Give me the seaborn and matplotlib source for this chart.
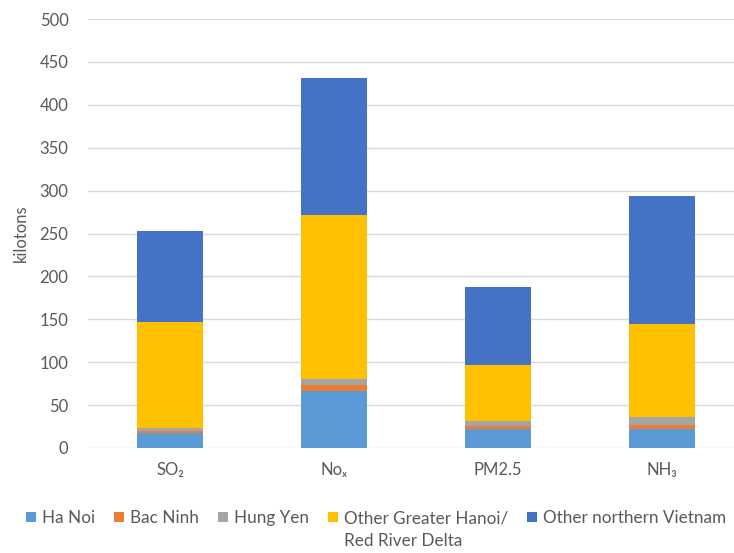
import matplotlib
matplotlib.use("Agg")
import matplotlib.pyplot as plt
import seaborn as sns
import pandas as pd
import numpy as np

categories = ["SO\u2082", "No\u2093", "PM2.5", "NH\u2083"]
series_names = ["Ha Noi", "Bac Ninh", "Hung Yen", "Other Greater Hanoi/", "Other northern Vietnam"]
ha_noi = [17, 67, 22, 22]
bac_ninh = [3, 7, 4, 5]
hung_yen = [3, 7, 5, 9]
other_greater_hanoi = [124, 190, 66, 109]
other_northern = [106, 160, 91, 149]
colors = ["#5B9BD5", "#ED7D31", "#A5A5A5", "#FFC000", "#4472C4"]

sns.set_theme(style="white")
plt.rcParams["font.family"] = ["Lato", "DejaVu Sans"]

series = [ha_noi, bac_ninh, hung_yen, other_greater_hanoi, other_northern]
cum = np.cumsum(np.array(series, dtype=float), axis=0)

fig = plt.figure(figsize=(7.34, 5.53), dpi=100)
ax = fig.add_axes([88 / 734, (553 - 448) / 553, 646 / 734, 429 / 553])

for i in range(len(series) - 1, -1, -1):
    df = pd.DataFrame({"cat": categories, "val": cum[i]})
    sns.barplot(data=df, x="cat", y="val", order=categories, color=colors[i],
                width=0.4, saturation=1, ax=ax, label=series_names[i], zorder=3,
                errorbar=None, linewidth=0, edgecolor="none")

if ax.get_legend() is not None:
    ax.get_legend().remove()

ax.set_ylim(0, 500)
ax.set_xlim(-0.5, -0.5 + 646 / 164)
ax.set_yticks(range(0, 501, 50))
ax.grid(axis="y", color="#D9D9D9", linewidth=1, zorder=0)
ax.grid(axis="x", visible=False)
for s in ax.spines.values():
    s.set_visible(False)
ax.tick_params(axis="both", length=0, colors="#595959", labelsize=12)
ax.tick_params(axis="y", pad=14)
ax.tick_params(axis="x", pad=10)
ax.set_xlabel("")
ax.set_ylabel("kilotons", fontsize=12, color="#595959", labelpad=8)

handles, labels = ax.get_legend_handles_labels()
order = [labels.index(n) for n in series_names]
leg = fig.legend([handles[k] for k in order], [labels[k] for k in order],
                 loc="center", bbox_to_anchor=(376 / 734, 1 - 518 / 553), ncol=5,
                 frameon=False, fontsize=12.3, handlelength=0.6, handleheight=0.6,
                 handletextpad=0.35, columnspacing=1.1, labelcolor="#595959",
                 borderaxespad=0, borderpad=0)

fig.canvas.draw()
texts = leg.get_texts()
bb = texts[3].get_window_extent(renderer=fig.canvas.get_renderer())
x0 = bb.x0 / fig.bbox.width
fig.text(x0, 1 - 541 / 553, "Red River Delta", fontsize=12.3, color="#595959",
         ha="left", va="center")

fig.savefig("out.png", dpi=100)
